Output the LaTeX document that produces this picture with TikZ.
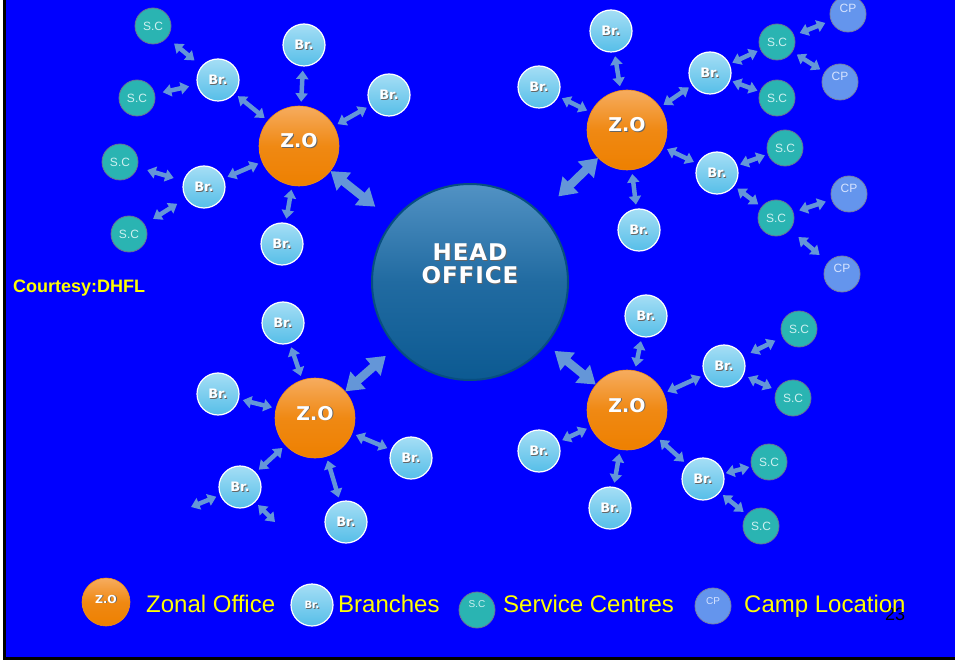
\documentclass[tikz,border=0pt]{standalone}
\usepackage{fontspec}
\setmainfont{Liberation Sans}
\newfontfamily\dvs{DejaVu Sans}
\newfontfamily\dvsls{DejaVu Sans}[LetterSpace=4]
\usetikzlibrary{arrows.meta}
\definecolor{bgblue}{RGB}{0,0,255}
\definecolor{arrc}{RGB}{100,150,216}
\definecolor{brfill}{RGB}{86,190,232}
\definecolor{brtop}{RGB}{165,222,245}
\definecolor{scfill}{RGB}{42,180,178}
\definecolor{scline}{RGB}{105,115,150}
\definecolor{sctext}{RGB}{205,240,240}
\definecolor{cpfill}{RGB}{100,149,237}
\definecolor{cpline}{RGB}{120,130,165}
\definecolor{cptext}{RGB}{215,228,255}
\definecolor{zofill}{RGB}{238,128,0}
\definecolor{zotop}{RGB}{246,172,95}
\definecolor{hofill}{RGB}{12,90,146}
\definecolor{hotop}{RGB}{82,146,196}
\definecolor{hoedge}{RGB}{8,78,128}
\definecolor{legyellow}{RGB}{255,255,0}
\newcommand{\shtxt}[1]{\rlap{\kern0.9pt\raisebox{-0.9pt}{\textcolor{black!60}{#1}}}#1}
\tikzset{
  br/.style={circle, draw=white, line width=1.2pt, minimum size=42pt, inner sep=0pt,
    top color=brtop, bottom color=brfill, text=white,
    font=\dvs\bfseries\fontsize{13}{13}\selectfont},
  sc/.style={circle, draw=scline, line width=0.8pt, minimum size=36pt, inner sep=0pt,
    fill=scfill, text=sctext, font=\fontsize{12}{12}\selectfont},
  cp/.style={circle, draw=cpline, line width=0.8pt, minimum size=36pt, inner sep=0pt,
    fill=cpfill, text=cptext, font=\fontsize{12}{12}\selectfont,
    text height=9pt, text depth=12pt},
  zo/.style={circle, draw=zofill!90!white, line width=0.6pt, minimum size=80pt, inner sep=0pt,
    top color=zotop, bottom color=zofill, middle color=zofill!80!zotop, text=white,
    font=\dvs\bfseries\fontsize{19}{19}\selectfont, text height=14pt, text depth=10pt},
  ho/.style={circle, draw=hoedge, line width=2pt, minimum size=196pt, inner sep=0pt,
    top color=hotop, bottom color=hofill, middle color=hofill!70!hotop},
  sarr/.style={{Triangle[width=12pt,length=8.5pt]}-{Triangle[width=12pt,length=8.5pt]},
    line width=4.5pt, arrc, shorten <=4pt, shorten >=4pt},
  carr/.style={sarr, shorten <=#1, shorten >=#1},
  barr/.style={{Triangle[width=22pt,length=17pt]}-{Triangle[width=22pt,length=17pt]},
    line width=8.5pt, arrc, shorten >=#1},
  legtext/.style={anchor=base west, inner sep=0pt, text=legyellow,
    font=\fontsize{24}{24}\selectfont},
}
\begin{document}
\begin{tikzpicture}[x=1pt, y=-1pt]
\useasboundingbox (0,0) rectangle (955,660);
\fill[white] (0,0) rectangle (955,660);
\fill[black] (2.5,0) rectangle (955,660);
\fill[bgblue] (6,0) rectangle (955,657);

% Head office
\node[ho] (ho) at (470,282) {};
\node[text=white, align=center, inner sep=0pt,
  font=\dvsls\bfseries\fontsize{23}{23}\selectfont] (hotext) at (470,264)
  {\shtxt{HEAD}\\\shtxt{OFFICE}};

% Zonal offices
\node[zo] (zo1) at (299,146) {\shtxt{Z.O}};
\node[zo] (zo2) at (627,130) {\shtxt{Z.O}};
\node[zo] (zo3) at (315,418) {\shtxt{Z.O}};
\node[zo] (zo4) at (627,410) {\shtxt{Z.O}};

% Top-left cluster
\node[br] (b11) at (218,80) {\shtxt{Br.}};
\node[br] (b12) at (304,45) {\shtxt{Br.}};
\node[br] (b13) at (389,95) {\shtxt{Br.}};
\node[br] (b14) at (204,187) {\shtxt{Br.}};
\node[br] (b15) at (282,244) {\shtxt{Br.}};
\node[sc] (s11) at (153,26) {S.C};
\node[sc] (s12) at (137,98) {S.C};
\node[sc] (s13) at (120,162) {S.C};
\node[sc] (s14) at (129,234) {S.C};

% Top-right cluster
\node[br] (b21) at (611,31) {\shtxt{Br.}};
\node[br] (b22) at (539,87) {\shtxt{Br.}};
\node[br] (b23) at (710,73) {\shtxt{Br.}};
\node[br] (b24) at (717,173) {\shtxt{Br.}};
\node[br] (b25) at (639,230) {\shtxt{Br.}};
\node[sc] (s21) at (777,42) {S.C};
\node[sc] (s22) at (777,98) {S.C};
\node[sc] (s23) at (785,148) {S.C};
\node[sc] (s24) at (776,218) {S.C};
\node[cp] (c1) at (848,14) {CP};
\node[cp] (c2) at (840,82) {CP};
\node[cp] (c3) at (849,194) {CP};
\node[cp] (c4) at (842,274) {CP};

% Bottom-left cluster
\node[br] (b31) at (283,323) {\shtxt{Br.}};
\node[br] (b32) at (218,394) {\shtxt{Br.}};
\node[br] (b33) at (411,458) {\shtxt{Br.}};
\node[br] (b34) at (240,487) {\shtxt{Br.}};
\node[br] (b35) at (346,522) {\shtxt{Br.}};
\coordinate (f1) at (191,507);
\coordinate (f2) at (275,522);

% Bottom-right cluster
\node[br] (b41) at (646,316) {\shtxt{Br.}};
\node[br] (b42) at (724,366) {\shtxt{Br.}};
\node[br] (b43) at (539,451) {\shtxt{Br.}};
\node[br] (b44) at (703,479) {\shtxt{Br.}};
\node[br] (b45) at (610,508) {\shtxt{Br.}};
\node[sc] (s41) at (799,329) {S.C};
\node[sc] (s42) at (793,398) {S.C};
\node[sc] (s43) at (769,462) {S.C};
\node[sc] (s44) at (761,526) {S.C};

% Arrows: zonal offices to head office
\draw[barr=22pt] (zo1) -- (ho);
\draw[barr=24pt] (zo2) -- (ho);
\draw[barr=13pt] (zo3) -- (ho);
\draw[barr=10pt] (zo4) -- (ho);

% Arrows: zonal offices to branches
\foreach \b in {b11,b12,b13,b14,b15} \draw[sarr] (zo1) -- (\b);
\foreach \b in {b21,b22,b23,b24,b25} \draw[sarr] (zo2) -- (\b);
\foreach \b in {b31,b32,b33,b34,b35} \draw[sarr] (zo3) -- (\b);
\foreach \b in {b41,b42,b43,b44,b45} \draw[sarr] (zo4) -- (\b);

% Arrows: branches to service centres
\draw[carr=9pt] (b11) -- (s11);
\draw[carr=8pt] (b11) -- (s12);
\draw[carr=10pt] (b14) -- (s13);
\draw[carr=10pt] (b14) -- (s14);
\draw[carr=3pt] (b23) -- (s21);
\draw[carr=2.5pt] (b23) -- (s22);
\draw[carr=3pt] (b24) -- (s23);
\draw[carr=4pt] (b24) -- (s24);
\draw[carr=8pt] (b42) -- (s41);
\draw[carr=5pt] (b42) -- (s42);
\draw[carr=2pt] (b44) -- (s43);
\draw[carr=4pt] (b44) -- (s44);
\draw[sarr, shorten >=0pt] (b34) -- (f1);
\draw[sarr, shorten >=0pt] (b34) -- (f2);

% Arrows: service centres to camps
\draw[carr=6pt] (s21) -- (c1);
\draw[carr=5pt] (s21) -- (c2);
\draw[carr=6pt] (s24) -- (c3);
\draw[carr=11pt] (s24) -- (c4);

% Courtesy
\node[anchor=base west, inner sep=0pt, text=legyellow,
  font=\bfseries\fontsize{18}{18}\selectfont] (court) at (13,292) {Courtesy:DHFL};

% Legend
\node[anchor=base west, inner sep=0pt, text=black,
  font=\fontsize{18}{18}\selectfont] (pagenum) at (885,620) {23};
\node[zo, minimum size=48pt, font=\dvs\bfseries\fontsize{11}{11}\selectfont,
  text height=8pt, text depth=6pt] (lzo) at (106,602) {\shtxt{Z.O}};
\node[legtext] (lt1) at (146,612) {Zonal Office};
\node[br, font=\dvs\bfseries\fontsize{10}{10}\selectfont] (lbr) at (312,605) {\shtxt{Br.}};
\node[legtext] (lt2) at (338,612) {Branches};
\node[sc, font=\fontsize{10}{10}\selectfont, text height=7pt, text depth=12pt] (lsc) at (477,610) {S.C};
\node[legtext] (lt3) at (503,612) {Service Centres};
\node[cp, font=\fontsize{10}{10}\selectfont] (lcp) at (713,606) {CP};
\node[legtext] (lt4) at (744,612) {Camp Location};
\end{tikzpicture}
\end{document}
